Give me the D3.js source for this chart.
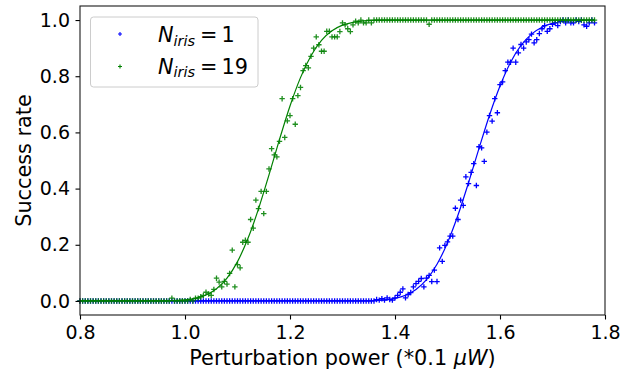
<!DOCTYPE html>
<html>
<head>
<meta charset="utf-8">
<script src="https://cdn.jsdelivr.net/npm/d3@7"></script>
<style>
  body { margin: 0; background: #fff; }
  svg { display: block; font-family: "DejaVu Sans", sans-serif; }
</style>
</head>
<body>
<div id="chart"></div>
<script>
// sampled perturbation powers (*0.1 uW)
const powers = [
  0.800, 0.805, 0.810, 0.815, 0.820, 0.825, 0.830, 0.835, 0.840, 0.845,
  0.850, 0.855, 0.860, 0.865, 0.870, 0.875, 0.880, 0.885, 0.890, 0.895,
  0.900, 0.905, 0.910, 0.915, 0.920, 0.925, 0.930, 0.935, 0.940, 0.945,
  0.950, 0.955, 0.960, 0.965, 0.970, 0.975, 0.980, 0.985, 0.990, 0.995,
  1.000, 1.005, 1.010, 1.015, 1.020, 1.025, 1.030, 1.035, 1.040, 1.045,
  1.050, 1.055, 1.060, 1.065, 1.070, 1.075, 1.080, 1.085, 1.090, 1.095,
  1.100, 1.105, 1.110, 1.115, 1.120, 1.125, 1.130, 1.135, 1.140, 1.145,
  1.150, 1.155, 1.160, 1.165, 1.170, 1.175, 1.180, 1.185, 1.190, 1.195,
  1.200, 1.205, 1.210, 1.215, 1.220, 1.225, 1.230, 1.235, 1.240, 1.245,
  1.250, 1.255, 1.260, 1.265, 1.270, 1.275, 1.280, 1.285, 1.290, 1.295,
  1.300, 1.305, 1.310, 1.315, 1.320, 1.325, 1.330, 1.335, 1.340, 1.345,
  1.350, 1.355, 1.360, 1.365, 1.370, 1.375, 1.380, 1.385, 1.390, 1.395,
  1.400, 1.405, 1.410, 1.415, 1.420, 1.425, 1.430, 1.435, 1.440, 1.445,
  1.450, 1.455, 1.460, 1.465, 1.470, 1.475, 1.480, 1.485, 1.490, 1.495,
  1.500, 1.505, 1.510, 1.515, 1.520, 1.525, 1.530, 1.535, 1.540, 1.545,
  1.550, 1.555, 1.560, 1.565, 1.570, 1.575, 1.580, 1.585, 1.590, 1.595,
  1.600, 1.605, 1.610, 1.615, 1.620, 1.625, 1.630, 1.635, 1.640, 1.645,
  1.650, 1.655, 1.660, 1.665, 1.670, 1.675, 1.680, 1.685, 1.690, 1.695,
  1.700, 1.705, 1.710, 1.715, 1.720, 1.725, 1.730, 1.735, 1.740, 1.745,
  1.750, 1.755, 1.760, 1.765, 1.770, 1.775, 1.780
];

// measured success rate, N_iris = 1
const rateIris1 = [
  0, 0, 0, 0, 0, 0, 0, 0, 0, 0,
  0, 0, 0, 0, 0, 0, 0, 0, 0, 0,
  0, 0, 0, 0, 0, 0, 0, 0, 0, 0,
  0, 0, 0, 0, 0, 0, 0, 0, 0, 0,
  0, 0, 0, 0, 0, 0, 0, 0, 0, 0,
  0, 0, 0, 0, 0, 0, 0, 0, 0, 0,
  0, 0, 0, 0, 0, 0, 0, 0, 0, 0,
  0, 0, 0, 0, 0, 0, 0, 0, 0, 0,
  0, 0, 0, 0, 0, 0, 0, 0, 0, 0,
  0, 0, 0, 0, 0, 0, 0, 0, 0, 0,
  0, 0, 0, 0, 0, 0, 0, 0, 0, 0,
  0, 0, 0, 0.005, 0.003, 0.008, 0.003, 0.011, 0.005, 0.003,
  0.011, 0.02, 0.031, 0.043, 0.011, 0.023, 0.03, 0.05, 0.062, 0.07,
  0.08, 0.05, 0.081, 0.091, 0.069, 0.11, 0.069, 0.189, 0.141, 0.198,
  0.21, 0.231, 0.231, 0.33, 0.29, 0.359, 0.34, 0.442, 0.418, 0.458,
  0.489, 0.411, 0.549, 0.545, 0.497, 0.601, 0.66, 0.64, 0.72, 0.67,
  0.77, 0.78, 0.82, 0.85, 0.85, 0.90, 0.85, 0.883, 0.913, 0.90,
  0.922, 0.93, 0.95, 0.919, 0.93, 0.952, 0.969, 0.98, 0.96, 0.969,
  0.985, 0.99, 0.98, 0.995, 1, 0.99, 1, 0.99, 0.99, 1,
  0.995, 1, 0.983, 0.978, 0.99, 1, 0.99
];

// measured success rate, N_iris = 19
const rateIris19 = [
  0, 0, 0, 0, 0, 0, 0, 0, 0, 0,
  0, 0, 0, 0, 0, 0, 0, 0, 0, 0,
  0, 0, 0, 0, 0, 0, 0, 0, 0, 0,
  0, 0, 0, 0, 0, 0.01, 0, 0, 0, 0,
  0, 0, 0.005, 0, 0.01, 0.01, 0.015, 0.02, 0.031, 0.025,
  0.02, 0.041, 0.081, 0.067, 0.05, 0.07, 0.06, 0.098, 0.181, 0.05,
  0.129, 0.118, 0.209, 0.216, 0.209, 0.29, 0.259, 0.359, 0.329, 0.39,
  0.311, 0.39, 0.47, 0.542, 0.52, 0.513, 0.568, 0.72, 0.582, 0.641,
  0.66, 0.72, 0.629, 0.731, 0.76, 0.82, 0.838, 0.83, 0.871, 0.90,
  0.94, 0.912, 0.889, 0.889, 0.96, 0.96, 0.94, 0.94, 0.94, 0.959,
  0.99, 0.983, 0.969, 0.959, 0.983, 0.996, 0.99, 1, 0.99, 0.99,
  1, 0.99, 1, 1, 1, 1, 1, 1, 1, 1,
  1, 1, 1, 1, 1, 1, 1, 1, 1, 1,
  1, 1, 1, 0.985, 1, 1, 1, 1, 1, 1,
  1, 1, 1, 1, 1, 1, 1, 1, 1, 1,
  1, 1, 1, 1, 1, 1, 1, 1, 1, 1,
  1, 1, 1, 1, 1, 1, 1, 1, 1, 1,
  1, 1, 1, 1, 1, 1, 1, 1, 1, 1,
  1, 1, 1, 1, 1, 1, 1, 1, 1, 1,
  1, 1, 1, 1, 1, 1, 1
];

// fitted curves
const fitPowers = [
  0.80, 0.82, 0.84, 0.86, 0.88, 0.90, 0.92, 0.94, 0.96, 0.98,
  1.00, 1.02, 1.04, 1.06, 1.08, 1.10, 1.12, 1.14, 1.16, 1.18,
  1.20, 1.22, 1.24, 1.26, 1.28, 1.30, 1.32, 1.34, 1.36, 1.38,
  1.40, 1.42, 1.44, 1.46, 1.48, 1.50, 1.52, 1.54, 1.56, 1.58,
  1.60, 1.62, 1.64, 1.66, 1.68, 1.70, 1.72, 1.74, 1.76, 1.78
];
const fitIris1 = [
  0, 0, 0, 0, 0, 0, 0, 0, 0, 0,
  0, 0, 0, 0, 0, 0, 0, 0, 0, 0,
  0, 0, 0, 0, 0, 0, 0.0002, 0.0005, 0.0015, 0.0039,
  0.0093, 0.0204, 0.0411, 0.0762, 0.1307, 0.2075, 0.3058, 0.4207, 0.543, 0.661,
  0.765, 0.849, 0.9096, 0.950, 0.9746, 0.988, 0.9949, 0.998, 0.9993, 0.9998
];
const fitIris19 = [
  0, 0, 0, 0, 0, 0, 0, 0, 0.0005, 0.0014,
  0.0038, 0.0094, 0.0211, 0.0433, 0.0812, 0.140, 0.223, 0.328, 0.449, 0.575,
  0.694, 0.795, 0.873, 0.928, 0.962, 0.982, 0.992, 0.997, 0.999, 1,
  1, 1, 1, 1, 1, 1, 1, 1, 1, 1,
  1, 1, 1, 1, 1, 1, 1, 1, 1, 1
];

const xTicks = [0.8, 1.0, 1.2, 1.4, 1.6, 1.8];
const yTicks = [0.0, 0.2, 0.4, 0.6, 0.8, 1.0];

const WIDTH = 632;
const HEIGHT = 371;
const MARGIN = { top: 6, right: 27, bottom: 56, left: 80 };
const BLUE = "#0000ff";
const GREEN = "#008000";

const svg = d3
  .select("#chart")
  .append("svg")
  .attr("width", WIDTH)
  .attr("height", HEIGHT)
  .attr("viewBox", `0 0 ${WIDTH} ${HEIGHT}`);

const x = d3.scaleLinear().domain([0.8, 1.8]).range([MARGIN.left, WIDTH - MARGIN.right]);
const y = d3.scaleLinear().domain([-0.05, 1.05]).range([HEIGHT - MARGIN.bottom, MARGIN.top]);

const crossPath = "M-2.7,0H2.7M0,-2.7V2.7";

function drawSeries(values, fit, color, opacity) {
  const pts = powers.map((p, i) => ({ p, v: values[i] }));
  svg
    .append("g")
    .selectAll("path")
    .data(pts)
    .join("path")
    .attr("d", crossPath)
    .attr("transform", (d) => `translate(${x(d.p)},${y(d.v)})`)
    .attr("stroke", color)
    .attr("stroke-width", 1.3)
    .attr("stroke-opacity", opacity)
    .attr("fill", "none");

  const line = d3
    .line()
    .x((d, i) => x(fitPowers[i]))
    .y((d) => y(d))
    .curve(d3.curveMonotoneX);

  svg
    .append("path")
    .datum(fit)
    .attr("d", line)
    .attr("fill", "none")
    .attr("stroke", color)
    .attr("stroke-width", 1.2);
}

drawSeries(rateIris1, fitIris1, BLUE, 1);
drawSeries(rateIris19, fitIris19, GREEN, 0.88);

// axes
const xAxis = d3.axisBottom(x).tickValues(xTicks).tickFormat(d3.format(".1f")).tickSize(4.5).tickPadding(6.5);
const yAxis = d3.axisLeft(y).tickValues(yTicks).tickFormat(d3.format(".1f")).tickSize(4.5).tickPadding(5.5);

svg
  .append("g")
  .attr("transform", `translate(0,${HEIGHT - MARGIN.bottom})`)
  .call(xAxis)
  .call((g) => g.select(".domain").remove())
  .call((g) => g.selectAll("line").attr("stroke", "#000").attr("stroke-width", 1.1))
  .call((g) => g.selectAll("text").attr("fill", "#000").attr("font-size", 19).attr("font-family", "DejaVu Sans"));

svg
  .append("g")
  .attr("transform", `translate(${MARGIN.left},0)`)
  .call(yAxis)
  .call((g) => g.select(".domain").remove())
  .call((g) => g.selectAll("line").attr("stroke", "#000").attr("stroke-width", 1.1))
  .call((g) => g.selectAll("text").attr("fill", "#000").attr("font-size", 19).attr("font-family", "DejaVu Sans"));

// frame
svg
  .append("rect")
  .attr("x", MARGIN.left)
  .attr("y", MARGIN.top)
  .attr("width", WIDTH - MARGIN.left - MARGIN.right)
  .attr("height", HEIGHT - MARGIN.top - MARGIN.bottom)
  .attr("fill", "none")
  .attr("stroke", "#1a1a1a")
  .attr("stroke-width", 1.1);

// axis labels
const xLabel = svg
  .append("text")
  .attr("x", (MARGIN.left + WIDTH - MARGIN.right) / 2)
  .attr("y", 365)
  .attr("text-anchor", "middle")
  .attr("font-size", 20.8)
  .attr("fill", "#000");
xLabel.append("tspan").text("Perturbation power (*0.1 ");
xLabel.append("tspan").attr("font-style", "italic").text("\u03bcW");
xLabel.append("tspan").text(")");

svg
  .append("text")
  .attr("transform", `translate(31,${(MARGIN.top + HEIGHT - MARGIN.bottom) / 2}) rotate(-90)`)
  .attr("text-anchor", "middle")
  .attr("font-size", 20.8)
  .attr("fill", "#000")
  .text("Success rate");

// legend
const legend = svg.append("g");
legend
  .append("rect")
  .attr("x", 90.5)
  .attr("y", 17)
  .attr("width", 167.5)
  .attr("height", 70)
  .attr("rx", 3)
  .attr("fill", "#fff")
  .attr("fill-opacity", 0.8)
  .attr("stroke", "#cccccc")
  .attr("stroke-width", 1);

const legendItems = [
  { n: "1", color: BLUE, cy: 34, base: 42 },
  { n: "19", color: GREEN, cy: 66.5, base: 73.5 },
];

legendItems.forEach((item) => {
  legend
    .append("path")
    .attr("d", "M-2,0H2M0,-2V2")
    .attr("transform", `translate(120,${item.cy})`)
    .attr("stroke", item.color)
    .attr("stroke-width", 1.1)
    .attr("fill", "none");

  const t = legend
    .append("text")
    .attr("x", 158)
    .attr("y", item.base)
    .attr("font-size", 20.8)
    .attr("fill", "#000");
  t.append("tspan").attr("font-style", "italic").text("N");
  t.append("tspan").attr("font-style", "italic").attr("font-size", 14.5).attr("dy", 3.5).text("iris");
  t.append("tspan").attr("x", 200).attr("dy", -3.5).text("=");
  t.append("tspan").attr("x", 221.5).text(item.n);
});
</script>
</body>
</html>
